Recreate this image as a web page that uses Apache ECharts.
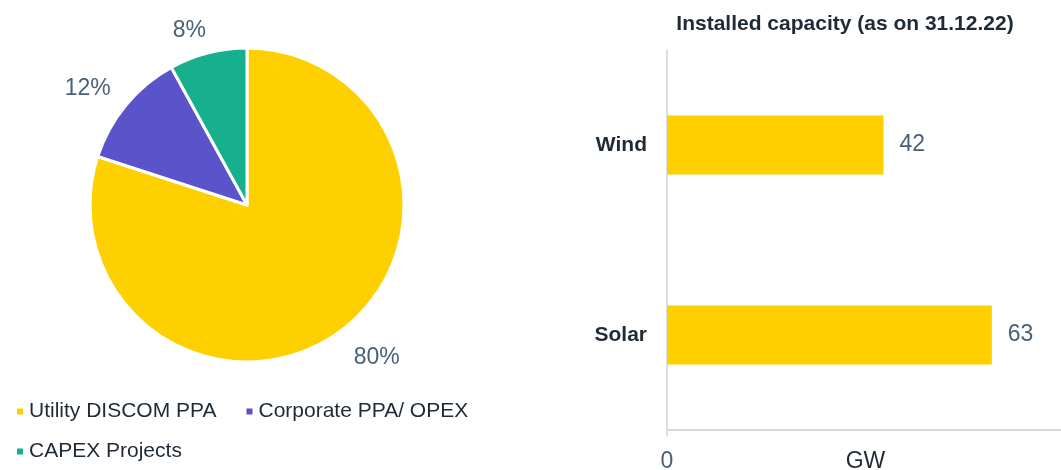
<!DOCTYPE html>
<html>
<head>
<meta charset="utf-8">
<script src="https://cdn.jsdelivr.net/npm/echarts@6/dist/echarts.min.js"></script>
<style>
    html, body { margin: 0; padding: 0; background: #fff; }
    #main { width: 1061px; height: 470px; }
</style>
</head>
<body>
<div id="main"></div>
<script>
// pie: revenue mix
var mixNames = ['Utility DISCOM PPA', 'Corporate PPA/ OPEX', 'CAPEX Projects'];
var mixValues = [80, 12, 8];
var mixColors = ['#ffd000', '#5b53c9', '#17b08e'];

// bar: installed capacity, GW
var capCategories = ['Wind', 'Solar'];
var capValues = [42, 63];

var myChart = echarts.init(document.getElementById('main'));

// small nudges so the pie labels sit where the original put them
var labelNudge = [[0, 13], [2, -6], [7, -7]];

var pieData = [];
for (var i = 0; i < mixNames.length; i++) {
    pieData.push({
        name: mixNames[i],
        value: mixValues[i],
        itemStyle: { color: mixColors[i] },
        label: { offset: labelNudge[i] }
    });
}

var option = {
    animation: false,
    textStyle: { fontFamily: 'Liberation Sans, Arial, sans-serif' },
    title: {
        text: 'Installed capacity (as on 31.12.22)',
        left: 840,
        top: 9,
        textAlign: 'center',
        textStyle: { fontSize: 21, fontWeight: 'bold', color: '#1f2a36' }
    },
    legend: [
        {
            data: [mixNames[0], mixNames[1]],
            left: 10,
            top: 396,
            itemWidth: 8,
            itemHeight: 8,
            itemGap: 28,
            icon: 'rect',
            textStyle: { fontSize: 21, color: '#1f2a36' }
        },
        {
            data: [mixNames[2]],
            left: 10,
            top: 436,
            itemWidth: 8,
            itemHeight: 8,
            icon: 'rect',
            textStyle: { fontSize: 21, color: '#1f2a36' }
        }
    ],
    grid: {
        left: 667,
        right: -3,
        top: 50,
        bottom: 40,
        containLabel: false,
        outerBoundsMode: 'none'
    },
    xAxis: {
        type: 'value',
        min: 0,
        max: 77,
        interval: 77,
        name: 'GW',
        nameLocation: 'middle',
        nameGap: 20,
        nameMoveOverlap: false,
        nameTextStyle: { fontSize: 23, color: '#1f2a36', verticalAlign: 'top' },
        splitLine: { show: false },
        axisLine: { show: true, lineStyle: { color: '#d9d9d9', width: 2 } },
        axisTick: { show: true, length: 6, lineStyle: { color: '#d5dfe9', width: 2 } },
        axisLabel: {
            fontSize: 23,
            color: '#4a6079',
            margin: 20,
            formatter: function (v) { return v === 0 ? '0' : ''; }
        }
    },
    yAxis: {
        type: 'category',
        data: capCategories,
        inverse: true,
        axisLine: { show: true, lineStyle: { color: '#d5dfe9', width: 2 } },
        axisTick: { show: false },
        axisLabel: { fontSize: 21, fontWeight: 'bold', color: '#1f2a36', margin: 20 }
    },
    series: [
        {
            type: 'pie',
            center: [247, 205],
            radius: 157,
            startAngle: 90,
            clockwise: true,
            data: pieData,
            itemStyle: { borderColor: '#fff', borderWidth: 3 },
            label: {
                show: true,
                position: 'outside',
                formatter: '{c}%',
                fontSize: 23,
                color: '#4a6079'
            },
            labelLine: { show: false, length: 16, length2: 0 }
        },
        {
            type: 'bar',
            data: capValues,
            barWidth: 59,
            itemStyle: { color: '#ffcf00' },
            label: {
                show: true,
                position: 'right',
                distance: 16,
                fontSize: 23,
                color: '#4a6079'
            }
        }
    ]
};
myChart.setOption(option);
</script>
</body>
</html>
